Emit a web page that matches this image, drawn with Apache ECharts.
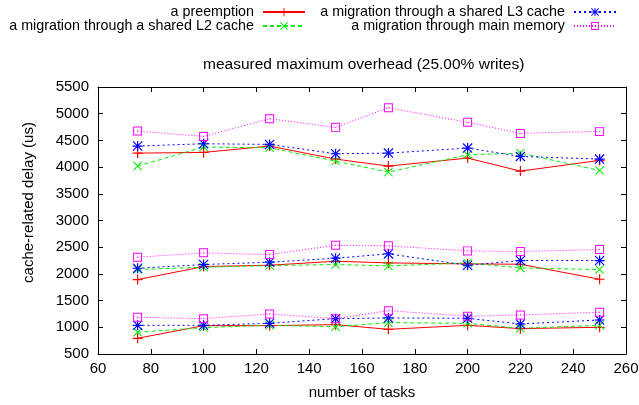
<!DOCTYPE html>
<html>
<head>
<meta charset="utf-8">
<script src="https://cdn.jsdelivr.net/npm/echarts@6/dist/echarts.min.js"></script>
<style>
  html, body { margin: 0; padding: 0; background: #fff; }
  #chart { width: 639px; height: 405px; }
</style>
</head>
<body>
<div id="chart"></div>
<script>
// number of tasks (x positions of every point)
const tasks = [75, 100, 125, 150, 170, 200, 220, 250]

// each series has three runs: upper, middle and lower band
const preemptionHigh = [4262, 4275, 4394, 4150, 4019, 4169, 3925, 4125]
const preemptionMid = [1894, 2137, 2162, 2237, 2206, 2187, 2181, 1900]
const preemptionLow = [794, 1031, 1031, 1050, 962, 1037, 975, 1000]

const l2High = [4019, 4375, 4362, 4112, 3906, 4231, 4262, 3937]
const l2Mid = [2081, 2125, 2156, 2175, 2150, 2206, 2112, 2081]
const l2Low = [906, 994, 1037, 1012, 1087, 1075, 981, 1037]

const l3High = [4394, 4437, 4425, 4250, 4262, 4356, 4200, 4150]
const l3Mid = [2106, 2175, 2219, 2294, 2375, 2162, 2250, 2250]
const l3Low = [1037, 1037, 1075, 1162, 1175, 1169, 1062, 1137]

const memHigh = [4675, 4575, 4906, 4744, 5112, 4838, 4631, 4669]
const memMid = [2312, 2394, 2362, 2537, 2525, 2431, 2419, 2456]
const memLow = [1187, 1162, 1250, 1162, 1312, 1206, 1231, 1281]

const names = [
  'a preemption',
  'a migration through a shared L2 cache',
  'a migration through a shared L3 cache',
  'a migration through main memory'
]

const FONT = '"Liberation Sans", Arial, sans-serif'

// gnuplot style point symbols
const plusPath = 'path://M4.4,0H5.6V10H4.4Z M0,4.4H10V5.6H0Z'
const crossPath = 'path://M0,0.8L0.8,0L10,9.2L9.2,10Z M9.2,0L10,0.8L0.8,10L0,9.2Z'
const starPath = 'path://M4.4,0H5.6V10H4.4Z M0,4.4H10V5.6H0Z M0,0.8L0.8,0L10,9.2L9.2,10Z M9.2,0L10,0.8L0.8,10L0,9.2Z'
const boxPath = 'path://M0,0H10V10H0Z M1.1,1.1V8.9H8.9V1.1Z M4.5,4.5H5.5V5.5H4.5Z'

const styles = [
  { color: '#ff0000', type: 'solid', symbol: plusPath, size: 10 },
  { color: '#00ee00', type: [4, 3], symbol: crossPath, size: 9 },
  { color: '#0000ff', type: [2, 3], symbol: starPath, size: 10 },
  { color: '#ff00ff', type: [1, 2], symbol: boxPath, size: 9 }
]

function makeSeries(idx, values) {
  const s = styles[idx]
  return {
    name: names[idx],
    type: 'line',
    data: tasks.map((t, i) => [t, values[i]]),
    symbol: s.symbol,
    symbolSize: s.size,
    lineStyle: { color: s.color, width: 1, type: s.type },
    itemStyle: { color: s.color, borderWidth: 0 },
    emphasis: { disabled: true },
    animation: false
  }
}

const series = [
  makeSeries(0, preemptionHigh), makeSeries(0, preemptionMid), makeSeries(0, preemptionLow),
  makeSeries(1, l2High), makeSeries(1, l2Mid), makeSeries(1, l2Low),
  makeSeries(2, l3High), makeSeries(2, l3Mid), makeSeries(2, l3Low),
  makeSeries(3, memHigh), makeSeries(3, memMid), makeSeries(3, memLow)
]

function legendItem(name, right, top) {
  return {
    data: [name],
    right: right,
    top: top,
    padding: 0,
    align: 'right',
    itemWidth: 42,
    itemHeight: 10,
    selectedMode: false,
    textStyle: { fontFamily: FONT, fontSize: 14.3, color: '#000', padding: [0, 4, 0, 0] }
  }
}

const axisCommon = {
  type: 'value',
  axisLine: { show: true, lineStyle: { color: '#000', width: 1 } },
  axisTick: { show: true, inside: true, length: 5, lineStyle: { color: '#000' } },
  splitLine: { show: false }
}

const chart = echarts.init(document.getElementById('chart'))
chart.setOption({
  backgroundColor: '#fff',
  animation: false,
  title: {
    text: 'measured maximum overhead (25.00% writes)',
    left: 203,
    top: 57,
    padding: 0,
    textStyle: { fontFamily: FONT, fontSize: 15.5, fontWeight: 'normal', color: '#000' }
  },
  legend: [
    legendItem(names[0], 333, 5),
    legendItem(names[1], 333, 19),
    legendItem(names[2], 22, 5),
    legendItem(names[3], 22, 19)
  ],
  grid: { left: 98, right: 13, top: 87, bottom: 51, outerBoundsMode: 'none' },
  xAxis: [
    Object.assign({}, axisCommon, {
      min: 60, max: 260, interval: 20, position: 'bottom',
      name: 'number of tasks', nameLocation: 'middle', nameGap: 31,
      nameTextStyle: { fontFamily: FONT, fontSize: 15, color: '#000' },
      axisLabel: { margin: 7, fontFamily: FONT, fontSize: 15, color: '#000' }
    }),
    Object.assign({}, axisCommon, {
      min: 60, max: 260, interval: 20, position: 'top',
      axisLabel: { show: false }
    })
  ],
  yAxis: [
    Object.assign({}, axisCommon, {
      min: 500, max: 5500, interval: 500, position: 'left',
      name: 'cache-related delay (us)', nameLocation: 'middle', nameGap: 62,
      nameTextStyle: { fontFamily: FONT, fontSize: 15, color: '#000', padding: [0, 0, 0, 36] },
      axisLabel: { margin: 9, fontFamily: FONT, fontSize: 15, color: '#000', formatter: (v) => String(v) }
    }),
    Object.assign({}, axisCommon, {
      min: 500, max: 5500, interval: 500, position: 'right',
      axisLabel: { show: false }
    })
  ],
  series: series
})
</script>
</body>
</html>
